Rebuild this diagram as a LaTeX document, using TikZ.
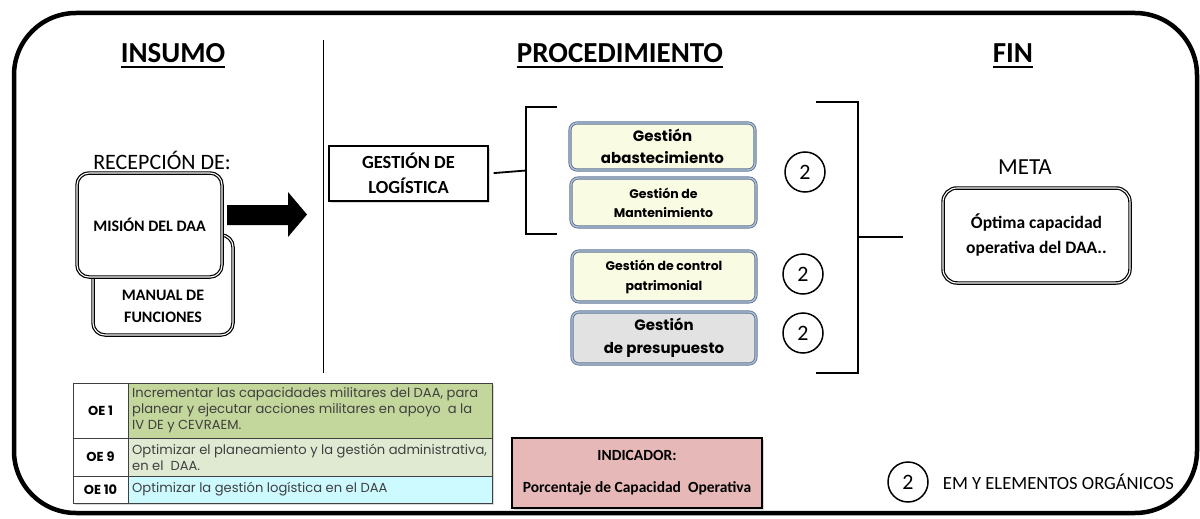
\documentclass[tikz,border=0pt]{standalone}
\usepackage{fontspec}
\setmainfont{Carlito}
\newfontfamily\gothic{Poppins}
\usepackage{xcolor}
\usetikzlibrary{positioning,shadows}
\definecolor{bordeG}{HTML}{5F7596}
\definecolor{bordeC}{HTML}{B3C2D6}
\definecolor{crema}{HTML}{F9FBE3}
\definecolor{grisG}{HTML}{E2E2E2}
\definecolor{verdeA}{HTML}{C3D69B}
\definecolor{verdeB}{HTML}{E0EAD2}
\definecolor{celeste}{HTML}{CCFAFF}
\definecolor{rosa}{HTML}{E6B9B8}
\definecolor{textoG}{HTML}{404040}

\begin{document}
\begin{tikzpicture}[x=1pt, y=-1pt, inner sep=0pt, align=center,
  titulo/.style={font=\bfseries\fontsize{29}{30}\selectfont, anchor=base},
  doble/.style={draw, double, line width=1.2pt, double distance=1.1pt, fill=white, rounded corners=12pt},
  gestion/.style={draw=bordeG, double=bordeC, line width=0.9pt, double distance=1.3pt, fill=crema, rounded corners=7pt, font=\gothic\bfseries},
  num/.style={draw, circle, line width=1.5pt, minimum size=40pt, font=\fontsize{22}{22}\selectfont},
  celda/.style={anchor=west, align=left, text=textoG, font=\gothic\fontsize{13.1}{16}\selectfont},
  etiqueta/.style={font=\gothic\bfseries\fontsize{13}{14}\selectfont},
  linea/.style={line width=1.8pt}]
  \useasboundingbox (0,0) rectangle (1200,519);
  \draw[line width=4.5pt, rounded corners=62pt] (14,13) rectangle (1197,513);

  \node[titulo] (insumo) at (173,63) {INSUMO};
  \node[titulo] (proc) at (620,63) {PROCEDIMIENTO};
  \node[titulo] (fin) at (1013,63) {FIN};
  \foreach \t in {insumo,proc,fin}
    \draw[line width=1.8pt] ([yshift=-4pt]\t.base west) -- ([yshift=-4pt]\t.base east);
  \draw[line width=1pt] (323,40) -- (323,373);

  \node[font=\fontsize{22}{22}\selectfont] (recep) at (162,160) {RECEPCIÓN DE:};
  \node[doble, minimum width=140pt, minimum height=100pt] (manual) at (163,285) {};
  \node[font=\bfseries\fontsize{16}{22}\selectfont] (manualtxt) at (163,306) {MANUAL DE\\FUNCIONES};
  \node[doble, minimum width=145pt, minimum height=104pt, font=\bfseries\fontsize{16}{20}\selectfont] (mision) at (149.5,225) {MISIÓN DEL DAA};
  \fill (227,205) -- (288,205) -- (288,192) -- (307,214.5) -- (288,237) -- (288,225) -- (227,225) -- cycle;

  \node[draw, line width=1.2pt, fill=white, drop shadow={opacity=0.3, shadow xshift=1.5pt, shadow yshift=-1.5pt},
    minimum width=159pt, minimum height=55pt, font=\bfseries\fontsize{18.5}{25}\selectfont] (logis) at (408.5,173.5) {GESTIÓN DE\\LOGÍSTICA};
  \coordinate (llave1) at (526,170.5);
  \draw[linea, shorten <=5pt] (logis.east) -- (llave1);
  \draw[linea] (557,107) -- (526,107) -- (526,234) -- (557,234);

  \node[gestion, minimum width=185pt, minimum height=47pt, font=\gothic\bfseries\fontsize{15}{22}\selectfont] (g1) at (662.5,146.5) {Gestión\\abastecimiento};
  \node[gestion, minimum width=185pt, minimum height=49pt, font=\gothic\bfseries\fontsize{12.5}{19}\selectfont] (g2) at (663.5,202.5) {Gestión de\\Mantenimiento};
  \node[gestion, minimum width=184pt, minimum height=51pt, font=\gothic\bfseries\fontsize{12.5}{20}\selectfont] (g3) at (664,276.5) {Gestión de control\\patrimonial};
  \node[gestion, fill=grisG, minimum width=184pt, minimum height=52pt, font=\gothic\bfseries\fontsize{15}{23}\selectfont] (g4) at (664,338) {Gestión\\de presupuesto};

  \node[num] (c1) at (805,172) {2};
  \node[num] (c2) at (803,274) {2};
  \node[num] (c3) at (803,333) {2};

  \draw[linea] (816,102) -- (858,102) -- (858,373) -- (816,373);
  \coordinate (llave2) at (858,237);
  \coordinate (punta) at (903,237);
  \draw[linea] (llave2) -- (punta);

  \node[doble, rounded corners=14pt, minimum width=187pt, minimum height=95pt, font=\bfseries\fontsize{17.5}{25}\selectfont] (optima) at (1036.5,235.5) {Óptima capacidad\\operativa del DAA..};
  \node[font=\fontsize{23}{23}\selectfont] (meta) at (1025,167) {META};

  \draw[fill=white, drop shadow={opacity=0.3, shadow xshift=1.5pt, shadow yshift=-1.5pt}] (73,383) rectangle (492,503);
  \fill[verdeA] (128,383) rectangle (492,438);
  \fill[verdeB] (128,438) rectangle (492,476);
  \fill[celeste] (128,476) rectangle (492,503);
  \draw[line width=0.8pt, draw=black!75] (73,383) rectangle (492,503) (128,383) -- (128,503) (73,438) -- (492,438) (73,476) -- (492,476);
  \node[etiqueta] (oe1) at (100.5,410.5) {OE 1};
  \node[etiqueta] (oe9) at (100.5,457) {OE 9};
  \node[etiqueta] (oe10) at (100.5,489.5) {OE 10};
  \node[celda] (t1) at (132,410.5) {Incrementar las capacidades militares del DAA, para\\planear y ejecutar acciones militares en apoyo\ \ a la\\IV DE y CEVRAEM.};
  \node[celda] (t9) at (132,457) {Optimizar el planeamiento y la gestión administrativa,\\en el\ \ DAA.};
  \node[celda] (t10) at (132,489.5) {Optimizar la gestión logística en el DAA};

  \node[draw, line width=1.2pt, fill=rosa, drop shadow={opacity=0.3, shadow xshift=1.5pt, shadow yshift=-1.5pt},
    minimum width=250pt, minimum height=70pt, font=\bfseries\fontsize{15.5}{32}\selectfont] (indic) at (637,473) {INDICADOR:\\Porcentaje de Capacidad\ \ Operativa};

  \node[num] (cley) at (908,482) {2};
  \node[right=14pt of cley, font=\fontsize{18.6}{18.6}\selectfont] (ley) {EM Y ELEMENTOS ORGÁNICOS};
\end{tikzpicture}
\end{document}
